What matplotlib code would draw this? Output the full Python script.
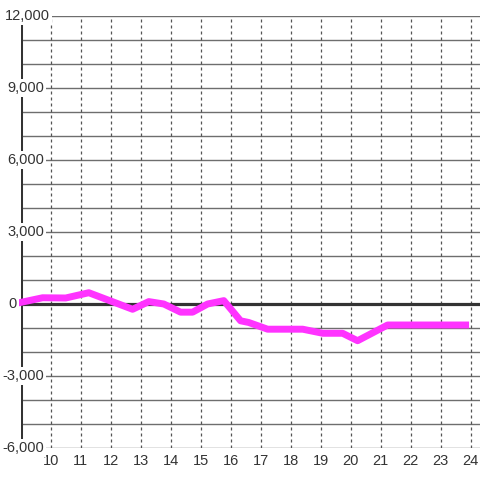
import matplotlib
matplotlib.use("Agg")
import matplotlib.pyplot as plt
from matplotlib.transforms import blended_transform_factory

# hour of day vs value
hours = [8.9, 9.73, 10.5, 11.27, 12.73, 13.27, 13.77, 14.33, 14.73, 15.23,
         15.77, 16.33, 16.6, 17.23, 18.4, 19.07, 19.73, 20.23, 21.23, 23.83]
values = [40, 260, 250, 470, -220, 100, 0, -340, -340, 0,
          140, -700, -770, -1050, -1050, -1220, -1220, -1530, -875, -875]

x_ticks = list(range(10, 25))
y_ticks = [-6000, -3000, 0, 3000, 6000, 9000, 12000]
y_grid = list(range(-6000, 12001, 1000))

plt.rcParams['font.family'] = ['Liberation Sans', 'DejaVu Sans']

fig = plt.figure(figsize=(4.8, 4.8), dpi=100)
ax = fig.add_axes([20.7/480, 32/480, (480-20.7)/480, 432/480])
ax.set_xlim(9, 24.31)
ax.set_ylim(-6000, 12000)
for s in ax.spines.values():
    s.set_visible(False)
ax.set_xticks([])
ax.set_yticks([])

for y in y_grid:
    ax.axhline(y, color='#6e6e6e', lw=1.0, zorder=1)
for x in x_ticks:
    ax.plot([x, x], [-6000, 12000], color='#555555', lw=0.9,
            linestyle=(0, (2.4, 2.4)), zorder=1)

ax.axhline(0, color='#333333', lw=2.3, zorder=2)
ax.axvline(9, color='#333333', lw=2.9, zorder=2)

ax.plot(hours, values, color='#ff33ff', lw=5, zorder=3, clip_on=False)

# y labels sit inside the plot on a white box, right edge in pixels
tr = blended_transform_factory(fig.transFigure, ax.transData)
for y in y_ticks:
    right = 50 if y == 12000 else (17 if y == 0 else 44)
    ax.text(right/480, y, f"{y:,}", transform=tr, ha='right', va='center',
            fontsize=10.5, color='#333333', zorder=5,
            bbox=dict(facecolor='white', edgecolor='none', pad=1.2))

for x in x_ticks:
    ax.text(x, -6000 - 250, str(x), ha='center', va='top', fontsize=10.5,
            color='#333333')

fig.savefig('out.png', dpi=100, facecolor='white')
